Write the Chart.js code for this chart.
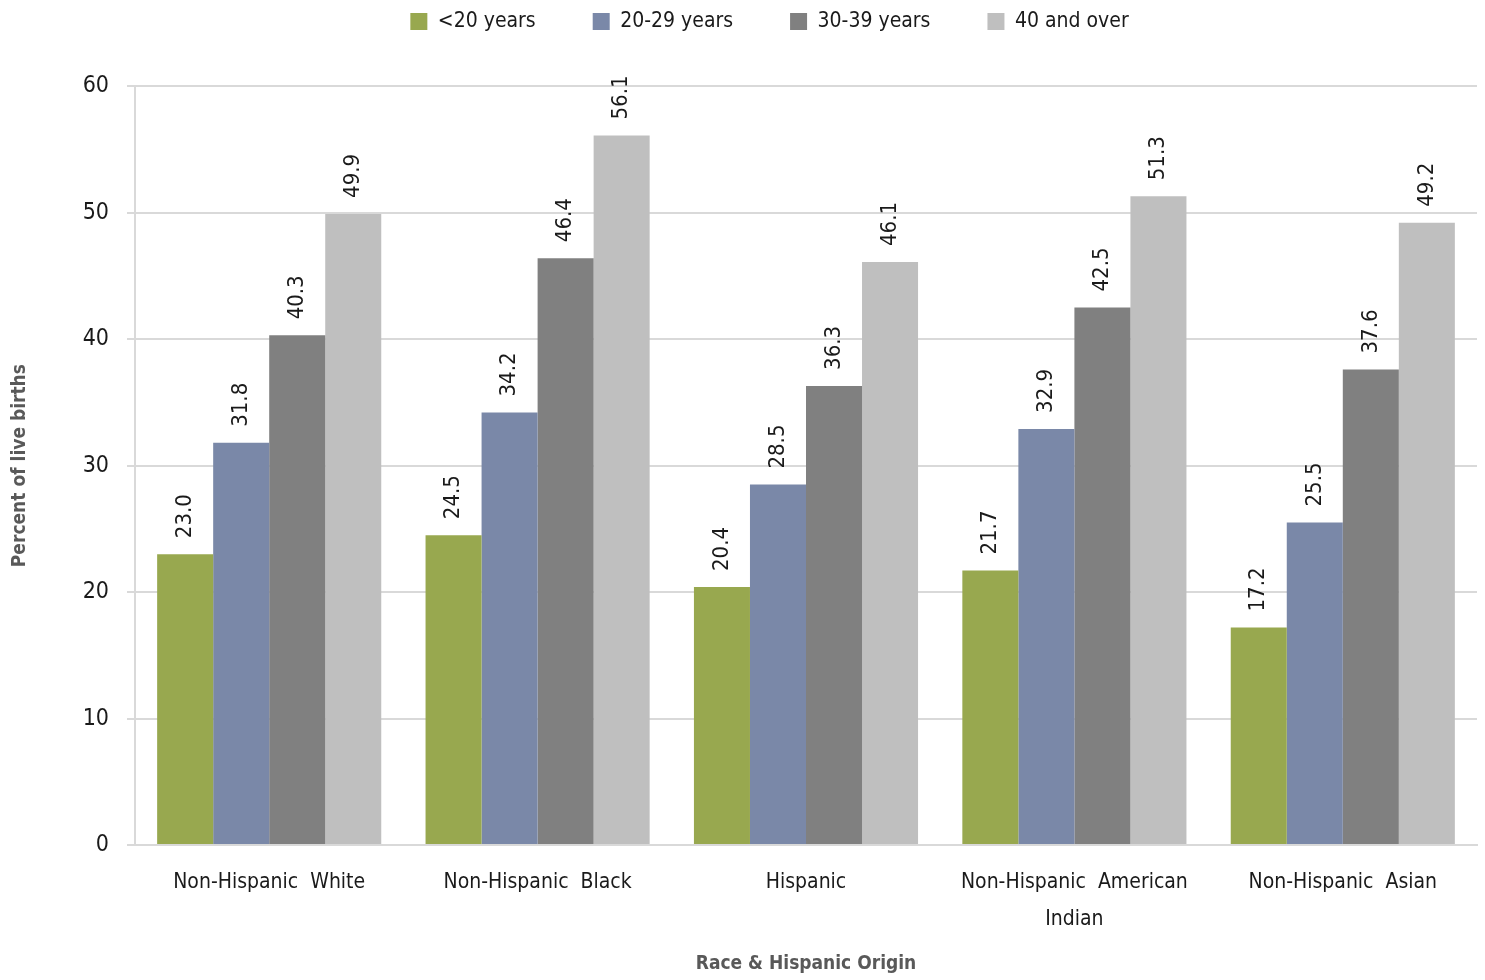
<!DOCTYPE html>
<html lang="en">
<head>
    <meta charset="UTF-8">
    <title>Percent of live births by race and age</title>
    <script src="https://cdn.jsdelivr.net/npm/chart.js"></script>
    <style>
        body {
            margin: 0;
            background-color: white;
        }
        #chart {
            display: block;
        }
    </style>
</head>
<body>
    <canvas id="chart" width="1485" height="980"></canvas>
    <script>
        // data
        const categories = [
            'Non-Hispanic  White',
            'Non-Hispanic  Black',
            'Hispanic',
            ['Non-Hispanic  American', 'Indian'],
            'Non-Hispanic  Asian'
        ];
        const seriesNames = ['<20 years', '20-29 years', '30-39 years', '40 and over'];
        const under20 = [23.0, 24.5, 20.4, 21.7, 17.2];
        const age20to29 = [31.8, 34.2, 28.5, 32.9, 25.5];
        const age30to39 = [40.3, 46.4, 36.3, 42.5, 37.6];
        const age40plus = [49.9, 56.1, 46.1, 51.3, 49.2];
        const yTicks = [0, 10, 20, 30, 40, 50, 60];

        const colors = ['#98a84f', '#7a88a8', '#808080', '#bfbfbf'];
        const fontFamily = '"Liberation Sans Narrow", "DejaVu Sans Condensed", "Liberation Sans", sans-serif';

        // draws the rotated value labels above each bar
        const barLabels = {
            id: 'barLabels',
            afterDatasetsDraw(chart) {
                const ctx = chart.ctx;
                ctx.save();
                ctx.fillStyle = '#1a1a1a';
                ctx.font = '22px ' + fontFamily;
                ctx.textAlign = 'left';
                ctx.textBaseline = 'middle';
                chart.data.datasets.forEach((ds, i) => {
                    const meta = chart.getDatasetMeta(i);
                    meta.data.forEach((bar, j) => {
                        ctx.save();
                        ctx.translate(bar.x, bar.y - 16);
                        ctx.rotate(-Math.PI / 2);
                        ctx.fillText(ds.data[j].toFixed(1), 0, 0);
                        ctx.restore();
                    });
                });
                ctx.restore();
            }
        };

        const datasets = [under20, age20to29, age30to39, age40plus].map((values, i) => ({
            label: seriesNames[i],
            data: values,
            backgroundColor: colors[i],
            categoryPercentage: 0.835,
            barPercentage: 1.0
        }));

        new Chart(document.getElementById('chart'), {
            type: 'bar',
            data: {
                labels: categories,
                datasets: datasets
            },
            options: {
                responsive: false,
                animation: false,
                layout: {
                    // left padding moves the legend right like in the original;
                    // negative top so the wide legend spacing doesn't push it down
                    padding: { left: 62, right: 8, top: -46, bottom: 0 }
                },
                plugins: {
                    tooltip: { enabled: false },
                    legend: {
                        position: 'top',
                        labels: {
                            boxWidth: 17,
                            boxHeight: 17,
                            padding: 57,
                            color: '#1a1a1a',
                            font: { family: fontFamily, size: 21 }
                        }
                    },
                    // empty subtitle used as a spacer between legend and plot
                    subtitle: {
                        display: true,
                        text: ' ',
                        weight: 100,
                        padding: { top: 43, bottom: 0 },
                        font: { size: 1 }
                    }
                },
                scales: {
                    x: {
                        grid: { display: false },
                        border: { display: true, color: '#d9d9d9', width: 2 },
                        ticks: {
                            color: '#1a1a1a',
                            padding: 11,
                            maxRotation: 0,
                            autoSkip: false,
                            font: { family: fontFamily, size: 21, lineHeight: 1.76 }
                        },
                        title: {
                            display: true,
                            text: 'Race & Hispanic Origin',
                            color: '#595959',
                            padding: { top: 10, bottom: 5 },
                            font: { family: fontFamily, size: 19, weight: 'bold' }
                        },
                        afterFit: (scale) => { scale.height = 135; }
                    },
                    y: {
                        min: 0,
                        max: 60,
                        afterBuildTicks: (scale) => {
                            scale.ticks = yTicks.map(v => ({ value: v }));
                        },
                        grid: {
                            color: '#d9d9d9',
                            lineWidth: 2,
                            tickLength: 8
                        },
                        border: { display: true, color: '#d9d9d9', width: 2 },
                        ticks: {
                            color: '#1a1a1a',
                            padding: 18,
                            font: { family: fontFamily, size: 23 }
                        },
                        title: {
                            display: true,
                            text: 'Percent of live births',
                            color: '#595959',
                            padding: { top: -53, bottom: 4 },
                            font: { family: fontFamily, size: 19, weight: 'bold' }
                        },
                        afterFit: (scale) => { scale.width = 73; }
                    }
                }
            },
            plugins: [barLabels]
        });
    </script>
</body>
</html>
